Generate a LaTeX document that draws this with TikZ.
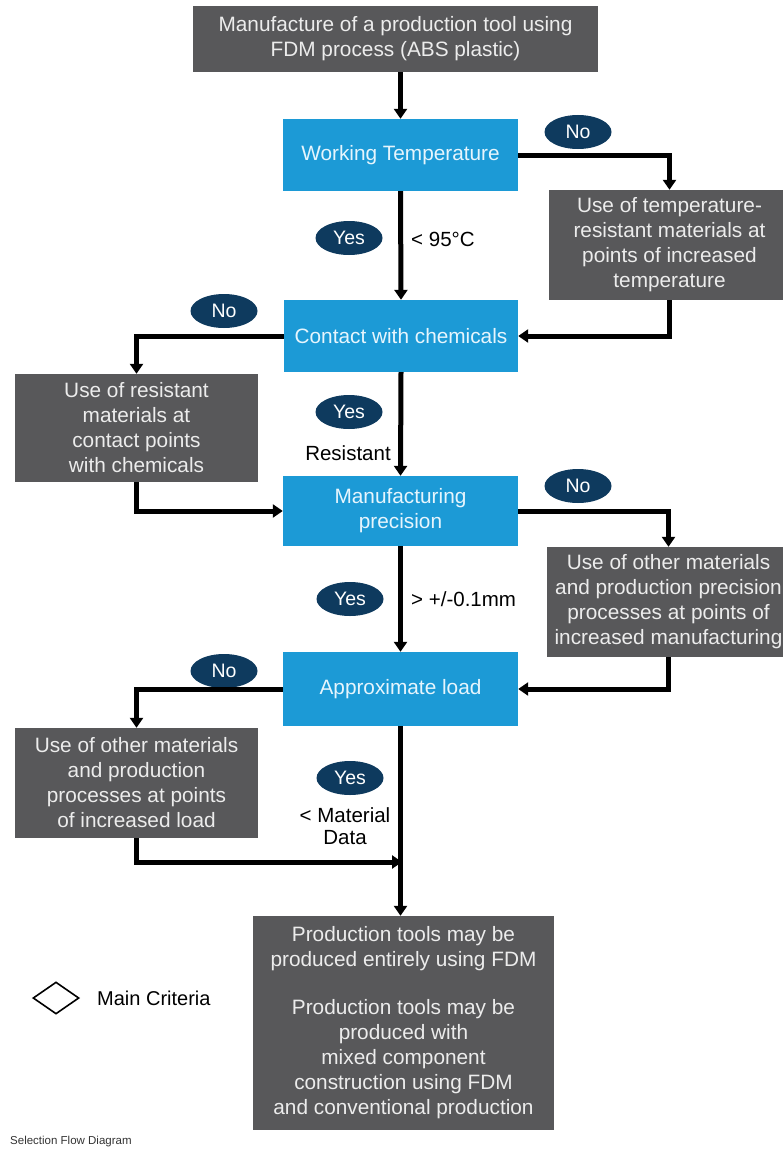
\documentclass[tikz,border=0pt]{standalone}
\usepackage{fontspec}
\setmainfont{Liberation Sans}
\usetikzlibrary{arrows.meta,shapes.geometric}
\definecolor{critblue}{HTML}{1C9AD6}
\definecolor{actgray}{HTML}{58585A}
\definecolor{ovalnavy}{HTML}{0E3A5E}
\definecolor{bluetext}{HTML}{E6F5FD}
\definecolor{graytext}{HTML}{ECECEC}
\tikzset{
  crit/.style={rectangle, fill=critblue, text=bluetext, align=center,
    inner sep=2pt, font=\fontsize{20.8}{25}\selectfont},
  act/.style={rectangle, fill=actgray, text=graytext, align=center,
    inner sep=2pt, font=\fontsize{20.8}{25}\selectfont},
  answer/.style={ellipse, fill=ovalnavy, text=white, inner sep=0pt,
    minimum width=67pt, minimum height=34pt, font=\fontsize{19.5}{22}\selectfont},
  cond/.style={text=black, font=\fontsize{20.5}{23}\selectfont, inner sep=0pt},
  arr/.style={line width=5pt, -{Triangle[width=13pt,length=10pt]}},
  sz/.style 2 args={minimum width=#1pt, minimum height=#2pt}
}
\begin{document}
\begin{tikzpicture}[x=1pt,y=-1pt]
\useasboundingbox (0,0) rectangle (783,1153);

% decision boxes and actions
\node[act, sz={405}{66}] (top) at (395.5,39)
  {Manufacture of a production tool using\\FDM process (ABS plastic)};
\node[crit, sz={235}{72}] (wt) at (400.5,155) {Working Temperature};
\node[act, sz={241}{110}] (r1) at (669.5,245)
  {Use of temperature-\\resistant materials at\\points of increased\\temperature};
\node[crit, sz={234}{72}] (cwc) at (401,336) {Contact with chemicals};
\node[act, sz={243}{108}] (l1) at (136.5,428)
  {Use of resistant\\materials at\\contact points\\with chemicals};
\node[crit, sz={235}{70}] (mp) at (400.5,511) {Manufacturing\\precision};
\node[act, sz={243}{110}] (r2) at (668.5,602)
  {Use of other materials\\and production precision\\processes at points of\\increased manufacturing};
\node[crit, sz={235}{74}] (al) at (400.5,689) {Approximate load};
\node[act, sz={243}{110}] (l2) at (136.5,783)
  {Use of other materials\\and production\\processes at points\\of increased load};
\node[act, sz={301}{214}] (fin) at (403.5,1023)
  {Production tools may be\\produced entirely using FDM\\[23pt]Production tools may be\\produced with\\mixed component\\construction using FDM\\and conventional production};

% yes / no markers
\node[answer] (no1) at (578,132) {No};
\node[answer] (no2) at (224,311) {No};
\node[answer] (no3) at (578,486) {No};
\node[answer] (no4) at (224,671) {No};
\node[answer] (yes1) at (349,238) {Yes};
\node[answer] (yes2) at (349,412) {Yes};
\node[answer] (yes3) at (350,599) {Yes};
\node[answer] (yes4) at (350,778) {Yes};

% threshold labels
\node[cond, anchor=west] (c1) at (411,239) {< 95°C};
\node[cond] (c2) at (348,453) {Resistant};
\node[cond, anchor=west] (c3) at (411,599) {> +/-0.1mm};
\node[cond, align=center, font=\fontsize{20.5}{22}\selectfont] (c4) at (345,826) {< Material\\Data};

% connectors
\coordinate (join) at (402,862);
\draw[arr] (wt.north |- top.south) -- (wt.north);
\draw[arr] (wt.east) -| (r1.north);
\draw[arr] (wt.south) -- (cwc.north);
\draw[arr] (r1.south) |- (cwc.east);
\draw[arr] (cwc.west) -| (l1.north);
\draw[arr] (cwc.south) -- (mp.north);
\draw[arr] (l1.south) |- (mp.west);
\draw[arr] (mp.east) -| (r2.north);
\draw[arr] (mp.south) -- (al.north);
\draw[arr] (r2.south) |- (al.east);
\draw[arr] (al.west) -| (l2.north);
\draw[arr] (l2.south) |- (join);
\draw[arr] (al.south) -- (al.south |- fin.north);

% legend
\node[diamond, draw=black, line width=1.6pt, minimum width=46pt, minimum height=32pt,
  inner sep=0pt] (legdia) at (56,998) {};
\node[anchor=west, inner sep=0pt, font=\fontsize{20}{22}\selectfont] (legtxt)
  at (97,998) {Main Criteria};
\node[anchor=west, inner sep=0pt, text=black!80, font=\fontsize{11.5}{13}\selectfont] (caption)
  at (10,1142) {Selection Flow Diagram};
\end{tikzpicture}
\end{document}
